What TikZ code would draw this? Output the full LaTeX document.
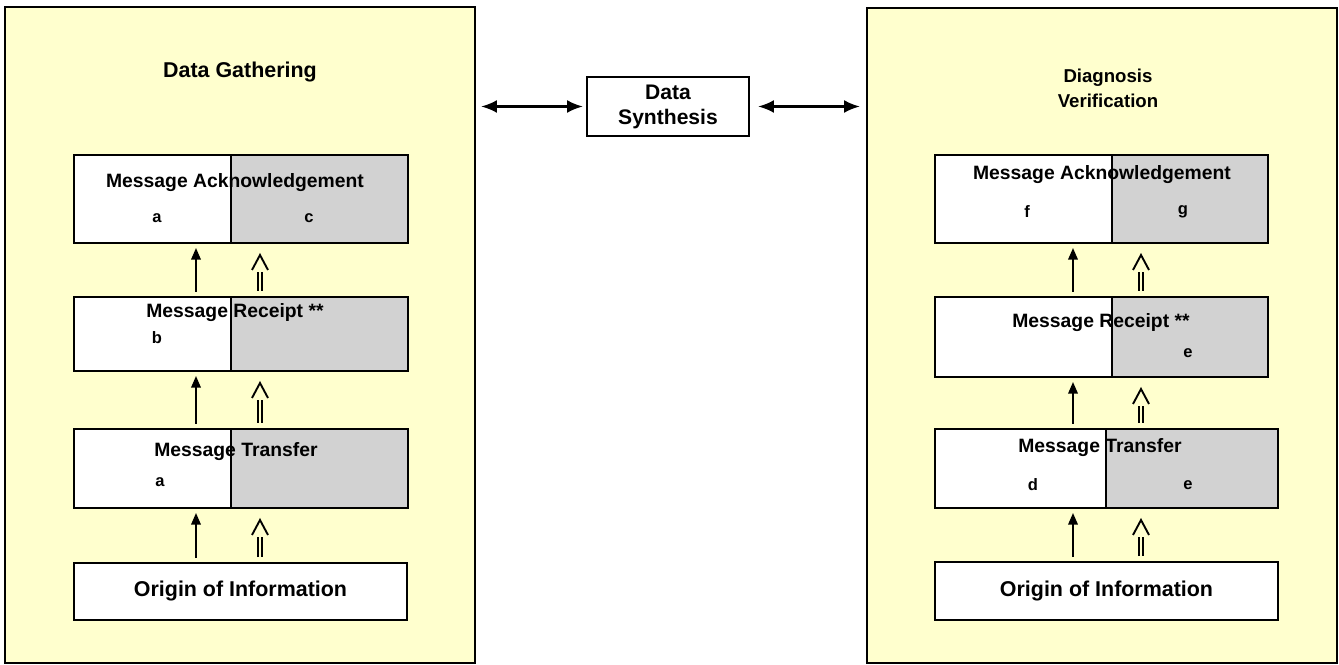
\documentclass[tikz,border=0pt]{standalone}
\usepackage{fontspec}
\setmainfont{Liberation Sans}
\usetikzlibrary{positioning,arrows.meta}

\newlength\px
\setlength\px{0.02cm}
\definecolor{panelyellow}{RGB}{255,255,206}
\definecolor{cellgray}{RGB}{210,210,210}

% double shaft with an open caret above it
\newcommand\twinup[3]{%
  \draw[twin] ([yshift=6\px]#1.north -| #3) -- ([yshift=-29\px]#2.south -| #3);
  \draw[caret] ([shift={(-8,27)}]#2.south -| #3) -- ([yshift=-12\px]#2.south -| #3)
    -- ([shift={(8,27)}]#2.south -| #3);}

\begin{document}
\begin{tikzpicture}[x=1\px, y=-1\px,
  panel/.style={draw, line width=2\px, fill=panelyellow, outer sep=0pt, inner sep=0pt},
  cell/.style={draw, line width=2\px, fill=white, outer sep=0pt, inner sep=0pt},
  shaded/.style={cell, fill=cellgray},
  title/.style={font=\fontsize{12.2}{14.2}\selectfont\bfseries, align=center},
  msg/.style={font=\fontsize{11}{13}\selectfont\bfseries, inner sep=0pt},
  tag/.style={font=\fontsize{9.4}{11}\selectfont\bfseries, inner sep=0pt},
  up/.style={line width=1.9\px, -{Triangle[length=6.6pt, width=5.4pt]},
    shorten <=5\px, shorten >=5\px},
  twin/.style={line width=1.9\px, double=panelyellow, double distance=2.2\px},
  caret/.style={line width=1.9\px, line join=miter},
  link/.style={line width=2.5\px,
    {Latex[length=9.1pt, width=7.4pt]}-{Latex[length=9.1pt, width=7.4pt]}}]
  \useasboundingbox (0,0) rectangle (1339,665);

  % panels
  \node[panel, minimum width=470\px, minimum height=656\px, anchor=north west] (gather) at (5,7) {};
  \node[panel, minimum width=470\px, minimum height=655\px, anchor=north west] (diag) at (867,8) {};
  \node[title] at (240,72) {Data Gathering};
  \node[title, font=\fontsize{10.6}{14.2}\selectfont\bfseries] at (1108,88) {Diagnosis\\Verification};

  % synthesis in the middle
  \node[cell, minimum width=162\px, minimum height=59\px, align=center,
    font=\fontsize{12}{14.2}\selectfont\bfseries] (syn) at (668,106.5) {Data\\Synthesis};
  \draw[link, shorten <=6\px, shorten >=4\px] (gather.east |- syn.west) -- (syn.west);
  \draw[link, shorten <=9\px, shorten >=7\px] (syn.east) -- (diag.west |- syn.east);

  % data gathering stack
  \node[cell, minimum width=157\px, minimum height=88\px, anchor=north west] (gAckL) at (74,155) {};
  \node[shaded, minimum width=177\px, minimum height=88\px, right=0pt of gAckL] (gAckR) {};
  \node[msg] at (235,183) {Message Acknowledgement};
  \node[tag] at (157,218) {a};
  \node[tag] at (309,218) {c};

  \node[cell, minimum width=157\px, minimum height=74\px, anchor=north west] (gRcptL) at (74,297) {};
  \node[shaded, minimum width=177\px, minimum height=74\px, right=0pt of gRcptL] (gRcptR) {};
  \node[msg] at (235,313) {Message Receipt **};
  \node[tag] at (157,338) {b};

  \node[cell, minimum width=157\px, minimum height=79\px, anchor=north west] (gTransL) at (74,429) {};
  \node[shaded, minimum width=177\px, minimum height=79\px, right=0pt of gTransL] (gTransR) {};
  \node[msg] at (236,452) {Message Transfer};
  \node[tag] at (160,482) {a};

  \node[cell, minimum width=333\px, minimum height=57\px, anchor=north west,
    font=\fontsize{12.2}{14}\selectfont\bfseries] (gOrig) at (74,563) {Origin of Information};

  \coordinate (gS) at (196,0);
  \coordinate (gD) at (260,0);
  \draw[up] (gRcptL.north -| gS) -- (gAckL.south -| gS);
  \draw[up] (gTransL.north -| gS) -- (gRcptL.south -| gS);
  \draw[up] (gOrig.north -| gS) -- (gTransL.south -| gS);
  \twinup{gRcptR}{gAckR}{gD}
  \twinup{gTransR}{gRcptR}{gD}
  \twinup{gOrig}{gTransR}{gD}

  % diagnosis verification stack
  \node[cell, minimum width=177\px, minimum height=88\px, anchor=north west] (dAckL) at (935,155) {};
  \node[shaded, minimum width=156\px, minimum height=88\px, right=0pt of dAckL] (dAckR) {};
  \node[msg] at (1102,175) {Message Acknowledgement};
  \node[tag] at (1027,212) {f};
  \node[tag] at (1183,212) {g};

  \node[cell, minimum width=177\px, minimum height=80\px, anchor=north west] (dRcptL) at (935,297) {};
  \node[shaded, minimum width=156\px, minimum height=80\px, right=0pt of dRcptL] (dRcptR) {};
  \node[msg] at (1101,323) {Message Receipt **};
  \node[tag] at (1188,353) {e};

  \node[cell, minimum width=171\px, minimum height=79\px, anchor=north west] (dTransL) at (935,429) {};
  \node[shaded, minimum width=172\px, minimum height=79\px, right=0pt of dTransL] (dTransR) {};
  \node[msg] at (1100,448) {Message Transfer};
  \node[tag] at (1033,485) {d};
  \node[tag] at (1188,485) {e};

  \node[cell, minimum width=343\px, minimum height=58\px, anchor=north west,
    font=\fontsize{12.2}{14}\selectfont\bfseries] (dOrig) at (935,562) {Origin of Information};

  \coordinate (dS) at (1073,0);
  \coordinate (dD) at (1141,0);
  \draw[up] (dRcptL.north -| dS) -- (dAckL.south -| dS);
  \draw[up] (dTransL.north -| dS) -- (dRcptL.south -| dS);
  \draw[up] (dOrig.north -| dS) -- (dTransL.south -| dS);
  \twinup{dRcptR}{dAckR}{dD}
  \twinup{dTransR}{dRcptR}{dD}
  \twinup{dOrig}{dTransR}{dD}
\end{tikzpicture}
\end{document}
